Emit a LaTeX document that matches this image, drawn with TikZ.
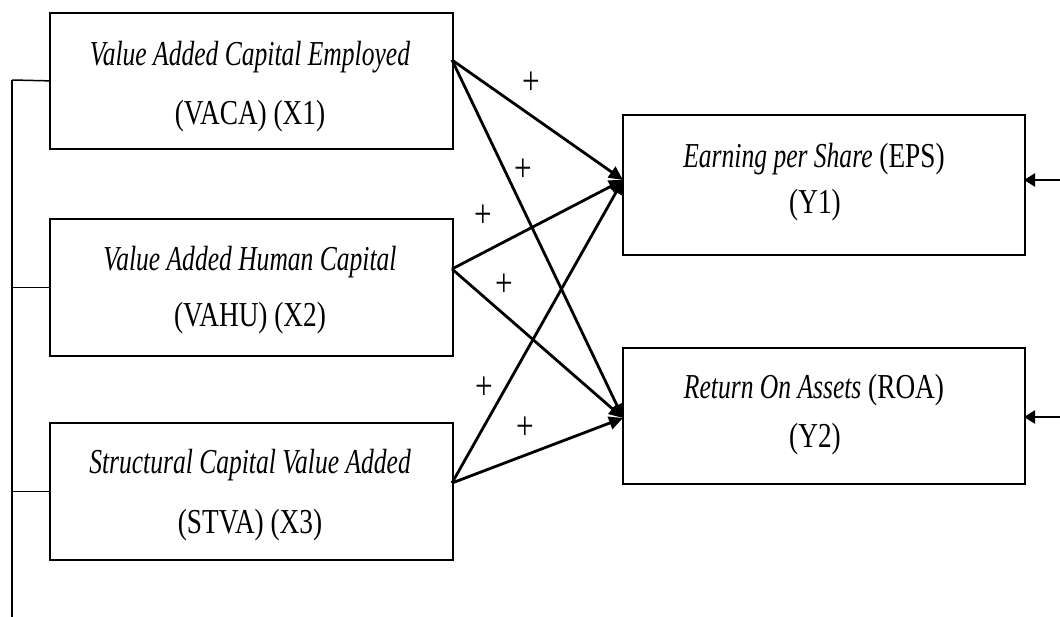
\documentclass[tikz,border=0pt]{standalone}
\usepackage{fontspec}
\setmainfont{Liberation Serif}[FakeStretch=0.78]
\newfontfamily\itf{Liberation Serif}[FakeStretch=0.73]
\usetikzlibrary{arrows.meta,calc}
\begin{document}
\begin{tikzpicture}[x=1pt,y=-1pt,
  box/.style={draw,line width=1.7pt,minimum width=403pt,anchor=north west,inner sep=0pt},
  txt/.style={anchor=base,inner sep=0pt,font=\fontsize{35}{40}\selectfont},
  plus/.style={inner sep=0pt,font=\fontsize{40}{42}\selectfont},
  arr/.style={line width=2.8pt,-{Triangle[length=14pt,width=13pt]}},
  inarr/.style={line width=2.4pt,-{Triangle[length=11pt,width=13pt]}},
  brace/.style={line width=1.5pt}]
\useasboundingbox (0,0) rectangle (1060,616);
% left boxes
\node[box,minimum height=136pt] (X1) at (49,12) {};
\node[box,minimum height=137pt] (X2) at (49,218) {};
\node[box,minimum height=137pt] (X3) at (49,422) {};
% right boxes
\node[box,minimum height=140pt,minimum width=402pt] (Y1) at (622,114) {};
\node[box,minimum height=136pt,minimum width=402pt] (Y2) at (622,347) {};
% texts
\node[txt] (t1a) at (250,65) {\itf\itshape Value Added Capital Employed};
\node[txt] (t1b) at (250,124) {(VACA) (X1)};
\node[txt] (t2a) at (250,270) {\itf\itshape Value Added Human Capital};
\node[txt] (t2b) at (250,326) {(VAHU) (X2)};
\node[txt] (t3a) at (250,473) {\itf\itshape Structural Capital Value Added};
\node[txt] (t3b) at (250,533) {(STVA) (X3)};
\node[txt] (u1a) at (814,167) {{\itf\itshape Earning per Share} (EPS)};
\node[txt] (u1b) at (815,213) {(Y1)};
\node[txt] (u2a) at (814,398) {{\itf\itshape Return On Assets} (ROA)};
\node[txt] (u2b) at (815,447) {(Y2)};
% connector endpoints on box edges
\coordinate (x1o) at (452,60);
\coordinate (x2o) at (452,269);
\coordinate (x3o) at (452,483);
\coordinate (y1i) at (623,180);
\coordinate (y2i) at (623,418);
\draw[arr] (x1o) -- (y1i);
\draw[arr] (x1o) -- (y2i);
\draw[arr] (x2o) -- (y1i);
\draw[arr] (x2o) -- (y2i);
\draw[arr] (x3o) -- (y1i);
\draw[arr] (x3o) -- (y2i);
% plus signs
\node[plus] (p1) at (531,83) {+};
\node[plus] (p2) at (523,170) {+};
\node[plus] (p3) at (483,216) {+};
\node[plus] (p4) at (504,285) {+};
\node[plus] (p5) at (484,388) {+};
\node[plus] (p6) at (525,428) {+};
% incoming arrows on the right
\coordinate (r1) at (1062,180);
\coordinate (r2) at (1062,417);
\coordinate (y1r) at (1024,180);
\coordinate (y2r) at (1024,417);
\draw[inarr] (r1) -- (y1r);
\draw[inarr] (r2) -- (y2r);
% left bracket
\coordinate (b0) at (12,80);
\coordinate (b3) at (12,618);
\draw[brace] (b0) -- (b3);
\draw[brace] (b0) -- (X1.west);
\draw[brace] (12,0 |- X2.west) -- (X2.west);
\draw[brace] (12,0 |- X3.west) -- (X3.west);
\end{tikzpicture}
\end{document}
